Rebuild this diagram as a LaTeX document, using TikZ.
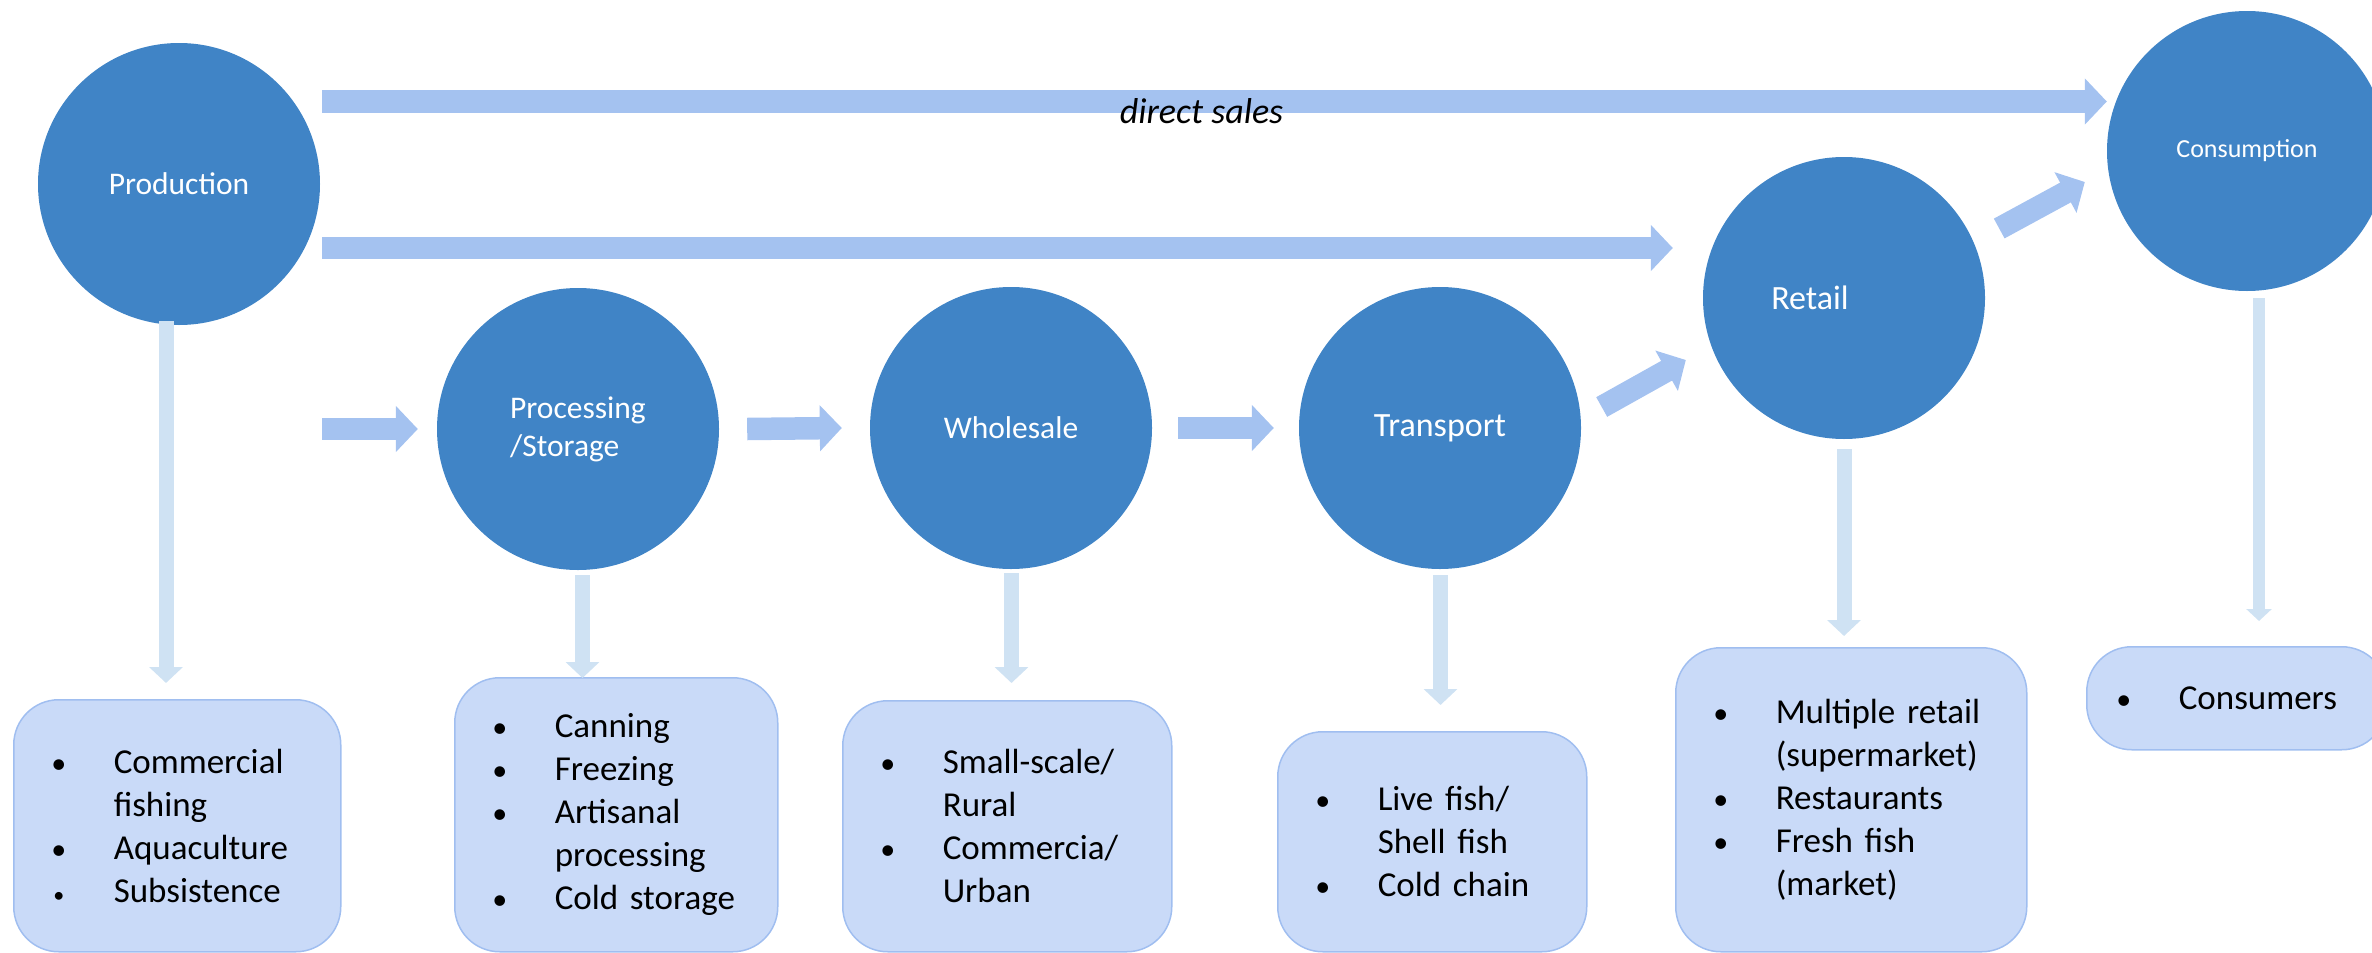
\documentclass[tikz,border=0pt]{standalone}
\usepackage{fontspec}
\setmainfont{Carlito}
\usetikzlibrary{arrows.meta,calc}
\definecolor{circ}{RGB}{64,132,198}
\definecolor{flowc}{RGB}{164,194,240}
\definecolor{downc}{RGB}{207,226,243}
\definecolor{boxf}{RGB}{201,218,248}
\definecolor{boxd}{RGB}{160,190,240}
\newcommand\itm[1]{\noindent\makebox[0pt][c]{\fontsize{30}{30}\selectfont\textbullet}\hspace*{55pt}\mbox{#1}}
\newcommand\itms[1]{\noindent\makebox[0pt][c]{\fontsize{22}{22}\selectfont\textbullet}\hspace*{55pt}\mbox{#1}}
\newcommand\cont[1]{\noindent\hspace*{55pt}\mbox{#1}}
\begin{document}
\begin{tikzpicture}[x=1pt,y=-1pt,
  stage/.style={circle,fill=circ,inner sep=0pt,minimum size=282pt,text=white,align=center},
  listbox/.style={draw=boxd,line width=1.5pt,fill=boxf,rounded corners=45pt,anchor=north west,
    inner xsep=45pt,inner ysep=0pt,align=left,font=\fontsize{35}{43}\selectfont},
  flow/.style={draw=flowc,line width=22.5pt,-{Triangle[length=22pt,width=45pt]}},
  down/.style={draw=downc,line width=15pt,-{Triangle[length=16pt,width=33pt]}},
  downs/.style={draw=downc,line width=12pt,-{Triangle[length=12pt,width=25pt]}},
]
\useasboundingbox (0,0) rectangle (2372,953);

% stages
\node[stage,font=\fontsize{31.5}{38}\selectfont] (prod) at (179,184) {Production};
\node[stage,align=left,font=\fontsize{31.5}{38}\selectfont] (proc) at (578,429) {Processing\\/Storage};
\node[stage,font=\fontsize{31.5}{38}\selectfont] (whole) at (1011,428) {Wholesale};
\node[stage,font=\fontsize{34}{40}\selectfont] (trans) at (1440,428) {Transport};
\node[stage,font=\fontsize{34}{40}\selectfont] (retail) at (1844,298) {Retail\hspace*{68pt}};
\node[stage,minimum size=280pt,font=\fontsize{26}{30}\selectfont] (cons) at (2247,151) {Consumption};

% boxes
\node[listbox,minimum width=327pt,minimum height=252pt,text width=237pt] (pbox) at (13,699)
  {\itm{Commercial}\\\cont{fishing}\\\itm{Aquaculture}\\\itms{Subsistence}};
\node[listbox,minimum width=323pt,minimum height=274pt,text width=233pt] (pbox2) at (454,677)
  {\itm{Canning}\\\itm{Freezing}\\\itm{Artisanal}\\\cont{processing}\\\itm{Cold storage}};
\node[listbox,minimum width=329pt,minimum height=251pt,text width=239pt] (wbox) at (842,700)
  {\itm{Small-scale/}\\\cont{Rural}\\\itm{Commercia/}\\\cont{Urban}};
\node[listbox,minimum width=309pt,minimum height=220pt,text width=219pt] (tbox) at (1277,731)
  {\itm{Live fish/}\\\cont{Shell fish}\\\itm{Cold chain}};
\node[listbox,minimum width=351pt,minimum height=304pt,text width=261pt] (rbox) at (1675,647)
  {\itm{Multiple retail}\\\cont{(supermarket)}\\\itm{Restaurants}\\\itm{Fresh fish}\\\cont{(market)}};
\node[listbox,inner xsep=37pt,minimum width=300pt,minimum height=103pt,text width=226pt] (cbox) at (2086,646)
  {\itm{Consumers}};

% flow arrows
\coordinate (dsS) at ($(prod.east)+(2,-82.5)$);
\draw[flow] (dsS) -- (dsS -| cons.west);
\node[font=\itshape\fontsize{36}{40}\selectfont,anchor=base] (ds) at (1201.5,123) {direct sales};

\coordinate (s2S) at ($(prod.east)+(2,64)$);
\coordinate (s2E) at ($(retail.west)+(-30,0)$);
\draw[flow] (s2S) -- (s2S -| s2E);

\draw[flow] ($(prod.east)+(2,245)$) -- ($(proc.west)+(-19,0)$);
\draw[flow] ($(proc.east)+(28,0)$) -- ($(whole.west)+(-28,0)$);
\draw[flow] ($(whole.east)+(26,0)$) -- ($(trans.west)+(-25,0)$);
\draw[flow] ($(trans.east)+(20.5,-21)$) -- ($(retail.west)+(-17,62)$);
\draw[flow] ($(retail.east)+(14,-69.5)$) -- ($(cons.west)+(-22,31)$);

% down arrows
\coordinate (d1) at ($(prod.south)+(-13,-4)$);
\coordinate (e1) at ($(pbox.north)+(0,-16)$);
\draw[down] (d1) -- (d1 |- e1);
\coordinate (d2) at ($(proc.south)+(4.5,5)$);
\coordinate (e2) at ($(pbox2.north)+(0,1)$);
\draw[down] (d2) -- (d2 |- e2);
\coordinate (d3) at ($(whole.south)+(0.5,4)$);
\coordinate (e3) at ($(wbox.north)+(0,-17)$);
\draw[down] (d3) -- (d3 |- e3);
\coordinate (d4) at ($(trans.south)+(0.5,6)$);
\coordinate (e4) at ($(tbox.north)+(0,-26)$);
\draw[down] (d4) -- (d4 |- e4);
\coordinate (d5) at ($(retail.south)+(0,10)$);
\coordinate (e5) at ($(rbox.north)+(0,-11)$);
\draw[down] (d5) -- (d5 |- e5);
\coordinate (d6) at ($(cons.south)+(12,7)$);
\coordinate (e6) at ($(cbox.north)+(0,-25)$);
\draw[downs] (d6) -- (d6 |- e6);
\end{tikzpicture}
\end{document}
